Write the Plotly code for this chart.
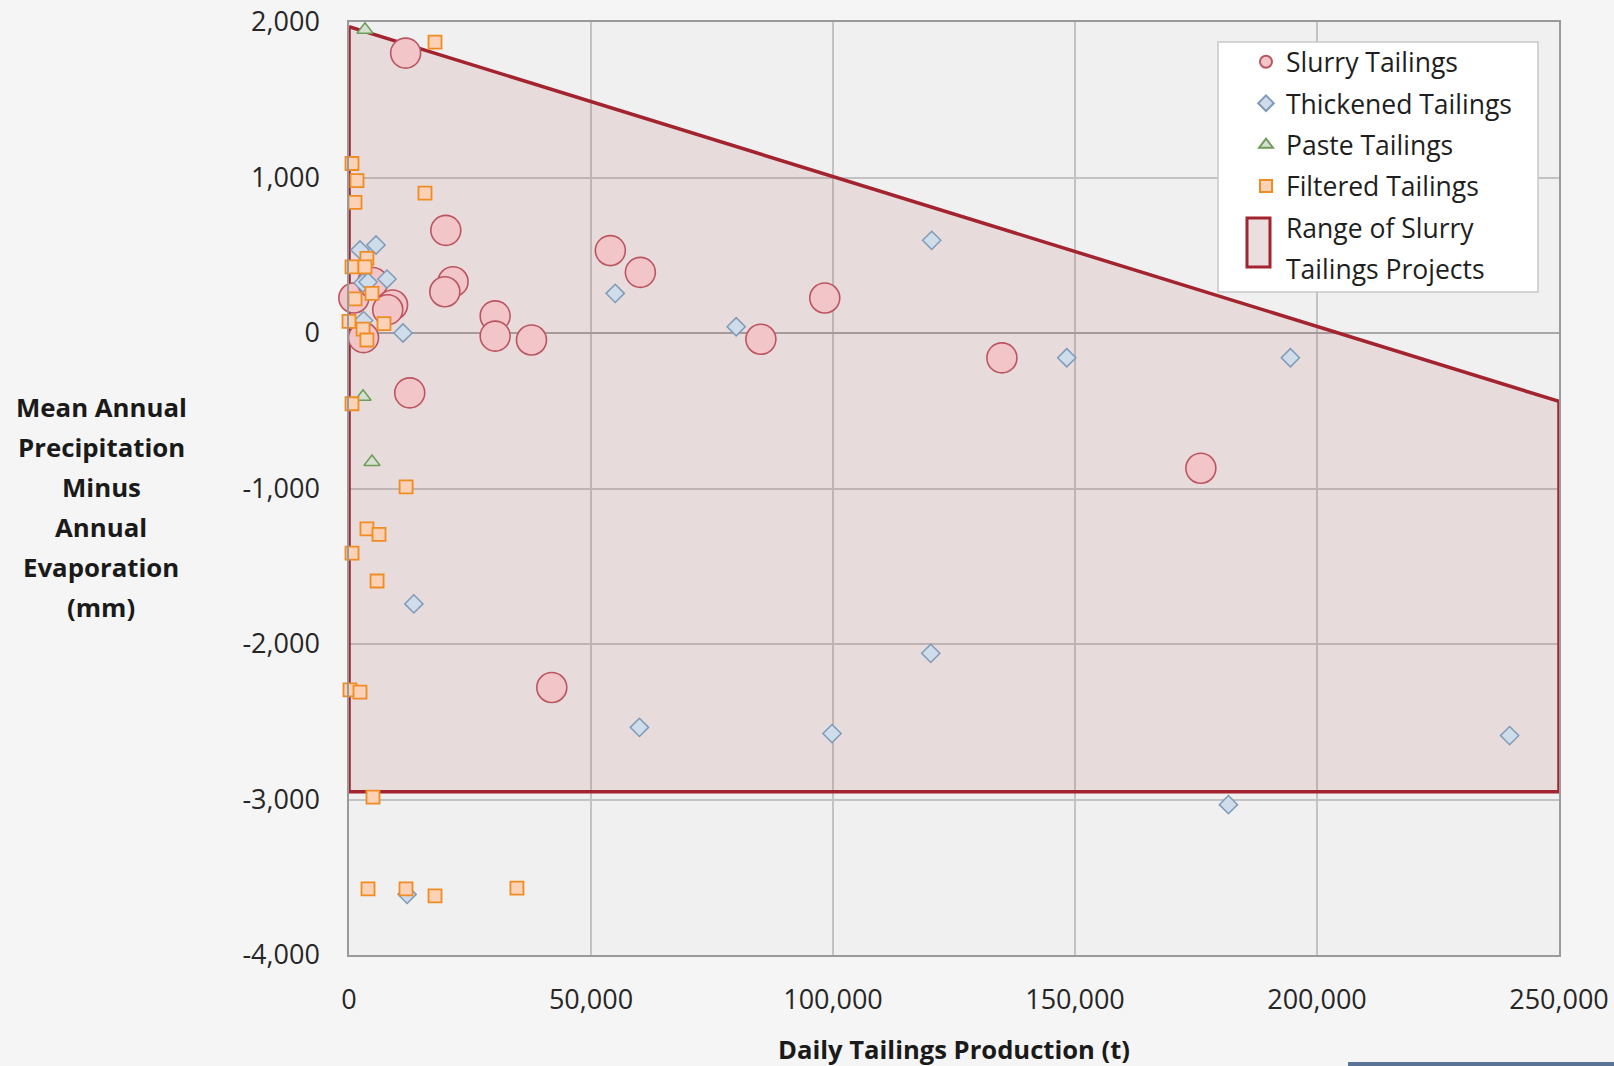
import plotly.graph_objects as go

# ---- data ----
slurry_x = [11700, 20000, 21500, 19800, 30200, 30200, 37700, 54000, 60200, 85100,
            98300, 134900, 176000, 41900, 12550, 1000, 4900, 9000, 8000, 3000]
slurry_y = [1800, 660, 330, 265, 110, -20, -45, 530, 390, -40,
            225, -160, -870, -2280, -385, 225, 325, 180, 150, -30]

thick_x = [2270, 5580, 2890, 3930, 7850, 11160, 3000, 55000, 80000, 120400,
           148300, 194500, 13400, 120200, 60000, 99800, 239800, 181700, 12000]
thick_y = [534, 566, 322, 328, 347, 0, 80, 255, 40, 596,
           -159, -159, -1742, -2060, -2536, -2576, -2589, -3033, -3610]

paste_x = [3300, 2900, 4750]
paste_y = [1950, -410, -830]

filt_x = [17770, 620, 1650, 1240, 15700, 3700, 620, 3300, 1240, 4750, 0, 2900, 3700,
          7230, 620, 11800, 3700, 6200, 620, 5800, 200, 2270, 4960, 3930, 11780,
          17770, 34700]
filt_y = [1870, 1090, 980, 840, 900, 480, 425, 425, 220, 255, 75, 25, -45,
          60, -455, -990, -1260, -1295, -1415, -1595, -2295, -2310, -2985, -3575, -3575,
          -3620, -3570]

range_x = [0, 0, 250000, 250000, 0]
range_y = [1970, -2950, -2950, -440, 1970]
range_name_lines = ["Range of Slurry", "Tailings Projects"]

x_ticks = [0, 50000, 100000, 150000, 200000, 250000]
x_tick_labels = ["0", "50,000", "100,000", "150,000", "200,000", "250,000"]
y_ticks = [-4000, -3000, -2000, -1000, 0, 1000, 2000]
y_tick_labels = ["-4,000", "-3,000", "-2,000", "-1,000", "0", "1,000", "2,000"]

y_title_lines = ["Mean Annual", "Precipitation", "Minus", "Annual", "Evaporation", "(mm)"]
x_title = "Daily Tailings Production (t)"

FONT = "Open Sans"
W, H = 1614, 1066
L, R, T, B = 349, 55, 22, 111
pw, ph = W - L - R, H - T - B


def px(xp):
    return (xp - L) / pw


def py(yp):
    return (H - B - yp) / ph


fig = go.Figure()

fig.add_trace(go.Scatter(
    x=range_x, y=range_y, mode="lines", fill="toself",
    fillcolor="rgba(165,40,52,0.10)",
    line=dict(color="#a3232f", width=3.5),
    name=" ".join(range_name_lines), showlegend=False, hoverinfo="skip",
))

fig.add_trace(go.Scatter(
    x=slurry_x, y=slurry_y, mode="markers", name="Slurry Tailings",
    marker=dict(symbol="circle", size=30, color="#f2c5c9",
                line=dict(color="#bb5560", width=1.6)),
    legendrank=1, legendgroup="a", cliponaxis=False,
))
fig.add_trace(go.Scatter(
    x=thick_x, y=thick_y, mode="markers", name="Thickened Tailings",
    marker=dict(symbol="diamond", size=14, color="#cfdcea",
                line=dict(color="#7f9bb8", width=1.5)),
    legendrank=2, legendgroup="b", cliponaxis=False,
))
fig.add_trace(go.Scatter(
    x=paste_x, y=paste_y, mode="markers", name="Paste Tailings",
    marker=dict(symbol="triangle-up", size=14, color="#d6e0d0",
                line=dict(color="#6f9c5a", width=1.5)),
    legendrank=3, legendgroup="c", cliponaxis=False,
))
fig.add_trace(go.Scatter(
    x=filt_x, y=filt_y, mode="markers", name="Filtered Tailings",
    marker=dict(symbol="square", size=13, color="#fbd2b6",
                line=dict(color="#f08c22", width=1.8)),
    legendrank=4, legendgroup="d", cliponaxis=False,
))
# legend text entries for the range polygon (its symbol is drawn as a shape)
for i, nm in enumerate(range_name_lines):
    fig.add_trace(go.Scatter(
        x=[None], y=[None], mode="markers", name=nm,
        marker=dict(color="rgba(0,0,0,0)", size=1),
        legendrank=5 + i, legendgroup="e%d" % i, hoverinfo="skip",
    ))

annotations = []
line_gap = 40
center_y_px = 507
for i, txt in enumerate(y_title_lines):
    ypx = center_y_px + (i - (len(y_title_lines) - 1) / 2) * line_gap
    annotations.append(dict(
        text="<b>%s</b>" % txt, xref="paper", yref="paper",
        x=px(101), y=py(ypx),
        xanchor="center", yanchor="middle", showarrow=False,
        font=dict(family=FONT, size=25.8, color="#1a1a1a"),
    ))
annotations.append(dict(
    text="<b>%s</b>" % x_title, xref="paper", yref="paper",
    x=px(954), y=py(1049),
    xanchor="center", yanchor="middle", showarrow=False,
    font=dict(family=FONT, size=25.6, color="#1a1a1a"),
))

shapes = [
    # legend box
    dict(type="rect", xref="paper", yref="paper",
         x0=px(1218), x1=px(1538), y0=py(292), y1=py(42),
         fillcolor="#ffffff", line=dict(color="#c8c8c8", width=1.5), layer="above"),
    # legend symbol for the range polygon
    dict(type="rect", xref="paper", yref="paper",
         x0=px(1247), x1=px(1270), y0=py(267), y1=py(218),
         fillcolor="#e9dfe0", line=dict(color="#a3232f", width=3), layer="above"),
    # bottom decorative bar
    dict(type="rect", xref="paper", yref="paper",
         x0=px(1348), x1=px(1614), y0=py(1066), y1=py(1062),
         fillcolor="#5b7395", line=dict(width=0), layer="above"),
]

fig.update_layout(
    width=W, height=H,
    margin=dict(l=L, r=R, t=T, b=B, pad=0, autoexpand=False),
    paper_bgcolor="#f5f5f5",
    plot_bgcolor="#f0f0f0",
    font=dict(family=FONT, size=25, color="#262626"),
    showlegend=True,
    legend=dict(
        x=px(1246), y=py(38), xanchor="left", yanchor="top",
        bgcolor="rgba(0,0,0,0)", borderwidth=0,
        font=dict(family=FONT, size=26.5, color="#1e1e1e"),
        itemsizing="constant", tracegroupgap=4, traceorder="grouped",
    ),
    annotations=annotations,
    shapes=shapes,
)

fig.update_xaxes(
    range=[0, 250000], tickvals=x_ticks, ticktext=x_tick_labels,
    showgrid=True, gridcolor="#c3c3c3", gridwidth=1.5,
    showline=True, linecolor="#9a9a9a", linewidth=1.5, mirror=True,
    zeroline=False, ticks="", ticklabelstandoff=20, automargin=False,
    tickfont=dict(family=FONT, size=27, color="#262626"),
)
fig.update_yaxes(
    range=[-4000, 2000], tickvals=y_ticks, ticktext=y_tick_labels,
    showgrid=True, gridcolor="#c3c3c3", gridwidth=1.5,
    showline=True, linecolor="#9a9a9a", linewidth=1.5, mirror=True,
    zeroline=True, zerolinecolor="#a8a8a8", zerolinewidth=2,
    ticks="", ticklabelstandoff=22, automargin=False,
    tickfont=dict(family=FONT, size=27, color="#262626"),
)

fig.write_html(
    "out.html",
    config={"displayModeBar": False},
    post_script="document.body.style.margin='0';document.body.style.overflow='hidden';",
)
